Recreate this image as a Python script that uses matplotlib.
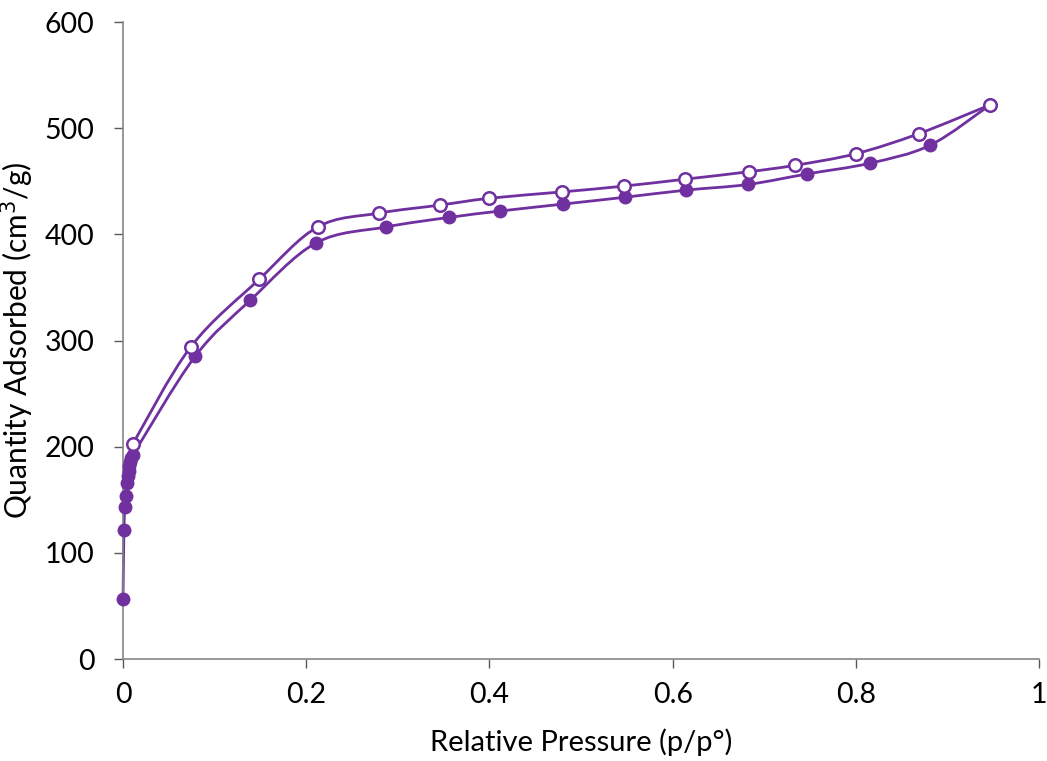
import numpy as np
import matplotlib.pyplot as plt
from matplotlib.path import Path
from matplotlib.patches import PathPatch

plt.rcParams['font.family'] = ['Lato', 'DejaVu Sans']

# adsorption branch (filled markers)
p_ads = [0.0, 0.001, 0.002, 0.003, 0.004, 0.005, 0.006, 0.007, 0.008, 0.009, 0.0106,
         0.0786, 0.139, 0.2107, 0.287, 0.356, 0.4116, 0.480, 0.548, 0.6146,
         0.682, 0.747, 0.815, 0.881, 0.9465]
q_ads = [56.5, 122, 143, 154, 166, 172, 177, 182, 186, 189, 192,
         285, 338, 392, 407, 416, 422, 428.5, 435, 441.7,
         447, 457, 467, 484, 522]

# desorption branch (open markers)
p_des = [0.9465, 0.869, 0.80, 0.733, 0.683, 0.6135, 0.547, 0.479, 0.3996,
         0.346, 0.279, 0.2125, 0.1485, 0.0739, 0.0106]
q_des = [522, 495, 476, 465, 459, 452, 445.5, 440, 434,
         427.6, 420, 407, 357.6, 294, 202.5]

purple = '#7030A0'


def smooth_path(x, y):
    # Catmull-Rom style bezier, like spreadsheet "smoothed line"
    pts = np.column_stack([x, y])
    verts = [pts[0]]
    codes = [Path.MOVETO]
    n = len(pts)
    for i in range(n - 1):
        p0 = pts[i - 1] if i > 0 else pts[i]
        p1 = pts[i]
        p2 = pts[i + 1]
        p3 = pts[i + 2] if i + 2 < n else pts[i + 1]
        c1 = p1 + (p2 - p0) / 6
        c2 = p2 - (p3 - p1) / 6
        verts += [c1, c2, p2]
        codes += [Path.CURVE4] * 3
    return Path(verts, codes)


fig = plt.figure(figsize=(10.47, 7.61), dpi=100)
ax = fig.add_axes([0.1175, 0.134, 0.875, 0.837])

for x, y in [(p_ads, q_ads), (p_des, q_des)]:
    ax.add_patch(PathPatch(smooth_path(x, y), fill=False, edgecolor=purple, lw=2.0,
                           zorder=2, clip_on=False))

ax.plot(p_ads, q_ads, ls='none', marker='o', ms=9, mfc=purple, mec=purple,
        zorder=3, clip_on=False)
ax.plot(p_des, q_des, ls='none', marker='o', ms=9, mfc='white', mec=purple, mew=1.8,
        zorder=4, clip_on=False)

ax.set_xlim(0, 1)
ax.set_ylim(0, 600)
ax.set_xticks([0, 0.2, 0.4, 0.6, 0.8, 1])
ax.set_xticklabels(['0', '0.2', '0.4', '0.6', '0.8', '1'])
ax.set_yticks(range(0, 601, 100))

for s in ['top', 'right']:
    ax.spines[s].set_visible(False)
for s in ['left', 'bottom']:
    ax.spines[s].set_color('#868686')
    ax.spines[s].set_linewidth(1.2)
ax.tick_params(axis='both', direction='out', length=6.5, width=1.0, color='#595959',
               labelsize=20.5, labelcolor='black')
ax.tick_params(axis='y', pad=14)
ax.tick_params(axis='x', pad=10)

ax.set_xlabel('Relative Pressure (p/p°)', fontsize=21, labelpad=15)
ax.set_ylabel('Quantity Adsorbed (cm$^3$/g)', fontsize=21.5, labelpad=6)

fig.savefig('out.png', dpi=100)
